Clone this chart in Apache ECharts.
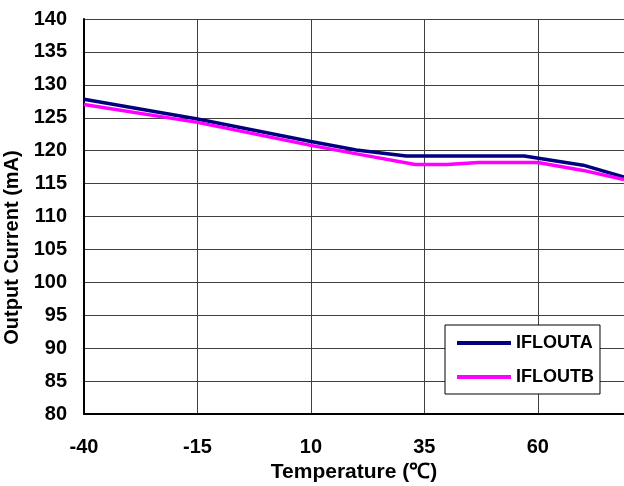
<!DOCTYPE html>
<html>
<head>
	<meta charset="utf-8">
	<script src="https://cdn.jsdelivr.net/npm/echarts@6/dist/echarts.min.js"></script>
	<title>Output Current vs Temperature</title>
	<style>
		html, body { margin: 0; padding: 0; background: #fff; }
		#e { width: 624px; height: 486px; }
	</style>
</head>
<body>
	<div id="e"></div>
	<script>
		// temperature (C) and current (mA)
		var tempA = [-40, -15, 10, 20, 31, 57, 70, 79];
		var currentA = [127.8, 124.8, 121.4, 120.1, 119.2, 119.2, 117.8, 116.0];
		var tempB = [-40, -15, 10, 21, 33, 40, 47, 60, 70, 79];
		var currentB = [127.0, 124.3, 120.8, 119.4, 117.9, 117.9, 118.2, 118.2, 117.0, 115.6];
		var xTicks = [-40, -15, 10, 35, 60];
		var names = ['IFLOUTA', 'IFLOUTB'];

		// x axis is shifted so ticks start from 0 (multiple of 25)
		var X0 = xTicks[0];
		function pairs(t, v) {
			var out = [];
			for (var i = 0; i < t.length; i++) out.push([t[i] - X0, v[i]]);
			return out;
		}

		var font = '"Liberation Sans", Arial, sans-serif';
		var myChart = echarts.init(document.getElementById('e'));
		var option = {
			animation: false,
			grid: { left: 84, top: 19, right: 0, bottom: 72, containLabel: false, outerBoundsMode: 'none' },
			legend: {
				orient: 'vertical',
				left: 445, top: 325,
				padding: [9, 6, 8, 12],
				itemWidth: 54, itemHeight: 4, itemGap: 16,
				icon: 'rect',
				backgroundColor: '#fff',
				borderColor: '#000', borderWidth: 1,
				textStyle: { fontFamily: font, fontWeight: 'bold', fontSize: 18, color: '#000' },
				data: names
			},
			xAxis: {
				type: 'value',
				min: 0, max: 119, interval: 25,
				axisLine: { lineStyle: { color: '#000', width: 2 } },
				axisTick: { show: false },
				axisLabel: {
					margin: 23,
					fontFamily: font, fontWeight: 'bold', fontSize: 20, color: '#000',
					formatter: function (v) { return v % 25 === 0 ? String(v + X0) : ''; }
				},
				splitLine: { show: true, lineStyle: { color: '#404040', width: 1 } },
				name: 'Temperature (℃)',
				nameLocation: 'middle',
				nameGap: 47,
				nameTextStyle: { fontFamily: font, fontWeight: 'bold', fontSize: 21, color: '#000' }
			},
			yAxis: {
				type: 'value',
				min: 80, max: 140, interval: 5,
				axisLine: { show: true, lineStyle: { color: '#000', width: 2 } },
				axisTick: { show: false },
				axisLabel: { margin: 17, fontFamily: font, fontWeight: 'bold', fontSize: 20, color: '#000' },
				splitLine: { lineStyle: { color: '#404040', width: 1 } },
				name: 'Output Current (mA)',
				nameLocation: 'middle',
				nameGap: 55,
				nameTextStyle: { fontFamily: font, fontWeight: 'bold', fontSize: 20, color: '#000', padding: [0, 62, 0, 0] }
			},
			series: [
				{
					name: names[0], type: 'line', symbol: 'none',
					lineStyle: { color: '#000080', width: 3.5 },
					itemStyle: { color: '#000080' },
					data: pairs(tempA, currentA)
				},
				{
					name: names[1], type: 'line', symbol: 'none',
					lineStyle: { color: '#ff00ff', width: 3.5 },
					itemStyle: { color: '#ff00ff' },
					data: pairs(tempB, currentB)
				}
			]
		};
		myChart.setOption(option);
	</script>
</body>
</html>
